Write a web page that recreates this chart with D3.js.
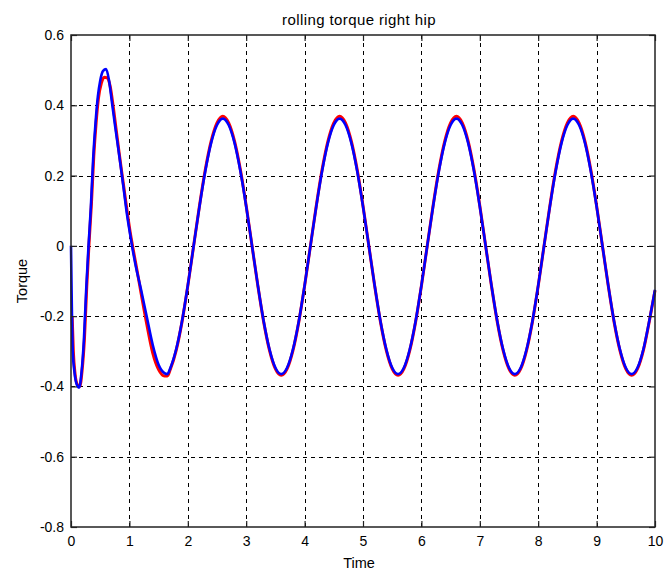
<!DOCTYPE html>
<html>
<head>
<meta charset="utf-8">
<script src="https://cdn.jsdelivr.net/npm/d3@7"></script>
<style>
  html, body { margin: 0; padding: 0; background: #ffffff; }
  svg { display: block; }
  text { font-family: "Liberation Sans", Arial, sans-serif; fill: #000; }
</style>
</head>
<body>
<svg id="chart" width="664" height="574"></svg>
<script>
// ---- data ----
const chartTitle = "rolling torque right hip";
const xLabel = "Time";
const yLabel = "Torque";

const xTickValues = [0, 1, 2, 3, 4, 5, 6, 7, 8, 9, 10];
const xTickLabels = ["0", "1", "2", "3", "4", "5", "6", "7", "8", "9", "10"];
const yTickValues = [-0.8, -0.6, -0.4, -0.2, 0, 0.2, 0.4, 0.6];
const yTickLabels = ["-0.8", "-0.6", "-0.4", "-0.2", "0", "0.2", "0.4", "0.6"];

// start-up transient, blue series
const blueEarlyTime = [0, 0.01, 0.03, 0.06, 0.10, 0.14, 0.18, 0.22, 0.26, 0.30, 0.34, 0.38, 0.42, 0.46, 0.50, 0.55, 0.60, 0.65, 0.70, 0.75, 0.80, 0.85, 0.90, 0.95, 1.00, 1.05, 1.10, 1.20, 1.30, 1.40, 1.50, 1.60, 1.65, 1.70];
const blueEarlyTorque = [0, -0.125, -0.300, -0.360, -0.395, -0.403, -0.360, -0.270, -0.125, 0.000, 0.110, 0.250, 0.350, 0.425, 0.470, 0.498, 0.503, 0.472, 0.410, 0.347, 0.288, 0.228, 0.165, 0.100, 0.045, -0.005, -0.050, -0.125, -0.204, -0.282, -0.338, -0.362, -0.365, -0.348];

// start-up transient, red series
const redEarlyTime = [0.02, 0.04, 0.07, 0.11, 0.15, 0.19, 0.23, 0.27, 0.31, 0.35, 0.39, 0.43, 0.47, 0.52, 0.57, 0.62, 0.67, 0.72, 0.77, 0.82, 0.87, 0.92, 0.97, 1.02, 1.07, 1.12, 1.20, 1.30, 1.40, 1.50, 1.60, 1.65, 1.70];
const redEarlyTorque = [-0.200, -0.300, -0.365, -0.395, -0.400, -0.355, -0.265, -0.115, 0.010, 0.120, 0.255, 0.350, 0.420, 0.463, 0.480, 0.478, 0.455, 0.400, 0.335, 0.270, 0.208, 0.148, 0.088, 0.032, -0.015, -0.060, -0.135, -0.225, -0.305, -0.352, -0.370, -0.370, -0.352];

// steady oscillation, both series share these times
const steadyTime = [1.8, 1.9, 2.0, 2.1, 2.2, 2.3, 2.4, 2.5, 2.6, 2.7, 2.8, 2.9, 3.0, 3.1, 3.2, 3.3, 3.4, 3.5, 3.6, 3.7,
  3.8, 3.9, 4.0, 4.1, 4.2, 4.3, 4.4, 4.5, 4.6, 4.7, 4.8, 4.9, 5.0, 5.1, 5.2, 5.3, 5.4, 5.5, 5.6, 5.7,
  5.8, 5.9, 6.0, 6.1, 6.2, 6.3, 6.4, 6.5, 6.6, 6.7, 6.8, 6.9, 7.0, 7.1, 7.2, 7.3, 7.4, 7.5, 7.6, 7.7,
  7.8, 7.9, 8.0, 8.1, 8.2, 8.3, 8.4, 8.5, 8.6, 8.7, 8.8, 8.9, 9.0, 9.1, 9.2, 9.3, 9.4, 9.5, 9.6, 9.7,
  9.8, 9.9, 10.0];
const blueSteady = [-0.295, -0.215, -0.113, 0.000, 0.112, 0.213, 0.293, 0.344, 0.362, 0.344, 0.293, 0.213, 0.112, 0.000, -0.113, -0.215, -0.295, -0.347, -0.365, -0.347,
  -0.295, -0.215, -0.113, 0.000, 0.112, 0.213, 0.293, 0.344, 0.362, 0.344, 0.293, 0.213, 0.112, 0.000, -0.113, -0.215, -0.295, -0.347, -0.365, -0.347,
  -0.295, -0.215, -0.113, 0.000, 0.112, 0.213, 0.293, 0.344, 0.362, 0.344, 0.293, 0.213, 0.112, 0.000, -0.113, -0.215, -0.295, -0.347, -0.365, -0.347,
  -0.295, -0.215, -0.113, 0.000, 0.112, 0.213, 0.293, 0.344, 0.362, 0.344, 0.293, 0.213, 0.112, 0.000, -0.113, -0.215, -0.295, -0.347, -0.365, -0.347,
  -0.295, -0.215, -0.125];
const redSteady = [-0.298, -0.217, -0.114, 0.000, 0.114, 0.217, 0.298, 0.350, 0.369, 0.350, 0.298, 0.217, 0.114, 0.000, -0.114, -0.217, -0.298, -0.350, -0.368, -0.350,
  -0.298, -0.217, -0.114, 0.000, 0.114, 0.217, 0.298, 0.350, 0.369, 0.350, 0.298, 0.217, 0.114, 0.000, -0.114, -0.217, -0.298, -0.350, -0.368, -0.350,
  -0.298, -0.217, -0.114, 0.000, 0.114, 0.217, 0.298, 0.350, 0.369, 0.350, 0.298, 0.217, 0.114, 0.000, -0.114, -0.217, -0.298, -0.350, -0.368, -0.350,
  -0.298, -0.217, -0.114, 0.000, 0.114, 0.217, 0.298, 0.350, 0.369, 0.350, 0.298, 0.217, 0.114, 0.000, -0.114, -0.217, -0.298, -0.350, -0.368, -0.350,
  -0.298, -0.217, -0.127];

// ---- layout ----
const W = 664, H = 574;
const plot = { left: 71, right: 655, top: 35, bottom: 527 };

const svg = d3.select("#chart");
svg.append("rect").attr("width", W).attr("height", H).attr("fill", "#fff");

const x = d3.scaleLinear().domain([0, 10]).range([plot.left, plot.right]);
const y = d3.scaleLinear().domain([-0.8, 0.6]).range([plot.bottom, plot.top]);

svg.append("rect")
  .attr("x", plot.left).attr("y", plot.top)
  .attr("width", plot.right - plot.left).attr("height", plot.bottom - plot.top)
  .attr("fill", "#fff");

// grid
const grid = svg.append("g").attr("stroke", "#000").attr("stroke-width", 1)
  .attr("stroke-dasharray", "4,4").attr("shape-rendering", "crispEdges");
grid.selectAll("line.gx").data(xTickValues.slice(1, -1)).enter().append("line")
  .attr("class", "gx")
  .attr("x1", d => Math.round(x(d)) + 0.5).attr("x2", d => Math.round(x(d)) + 0.5)
  .attr("y1", plot.top).attr("y2", plot.bottom);
grid.selectAll("line.gy").data(yTickValues.slice(1, -1)).enter().append("line")
  .attr("class", "gy")
  .attr("y1", d => Math.round(y(d)) + 0.5).attr("y2", d => Math.round(y(d)) + 0.5)
  .attr("x1", plot.left).attr("x2", plot.right);

// series
function buildPoints(t1, v1, t2, v2) {
  const pts = t1.map((t, i) => [t, v1[i]]);
  return pts.concat(t2.map((t, i) => [t, v2[i]]));
}
const redPts = buildPoints(redEarlyTime, redEarlyTorque, steadyTime, redSteady);
const bluePts = buildPoints(blueEarlyTime, blueEarlyTorque, steadyTime, blueSteady);

const line = d3.line().x(d => x(d[0])).y(d => y(d[1])).curve(d3.curveMonotoneX);

svg.append("path").datum(redPts)
  .attr("d", line).attr("fill", "none").attr("stroke", "#ff0000")
  .attr("stroke-width", 3).attr("stroke-linejoin", "round");
svg.append("path").datum(bluePts)
  .attr("d", line).attr("fill", "none").attr("stroke", "#0000ff")
  .attr("stroke-width", 2.6).attr("stroke-linejoin", "round");

// axes (ticks inward on all sides)
const fmtX = (d) => xTickLabels[xTickValues.indexOf(d)];
const fmtY = (d) => yTickLabels[yTickValues.indexOf(d)];

const axB = svg.append("g").attr("transform", `translate(0,${plot.bottom})`)
  .call(d3.axisBottom(x).tickValues(xTickValues).tickFormat(fmtX).tickSizeInner(-6).tickSizeOuter(0).tickPadding(8));
const axL = svg.append("g").attr("transform", `translate(${plot.left},0)`)
  .call(d3.axisLeft(y).tickValues(yTickValues).tickFormat(fmtY).tickSizeInner(-6).tickSizeOuter(0).tickPadding(7));
const axT = svg.append("g").attr("transform", `translate(0,${plot.top})`)
  .call(d3.axisTop(x).tickValues(xTickValues).tickFormat("").tickSizeInner(-6).tickSizeOuter(0));
const axR = svg.append("g").attr("transform", `translate(${plot.right},0)`)
  .call(d3.axisRight(y).tickValues(yTickValues).tickFormat("").tickSizeInner(-6).tickSizeOuter(0));

[axB, axL, axT, axR].forEach(g => {
  g.select(".domain").remove();
  g.selectAll(".tick line").attr("stroke", "#222").attr("stroke-width", 1.2);
  g.selectAll(".tick text").attr("font-family", "'Liberation Sans', Arial, sans-serif")
    .attr("font-size", 14).attr("fill", "#000");
});
axB.selectAll(".tick text").attr("dy", "0.75em");

// box
svg.append("rect")
  .attr("x", plot.left).attr("y", plot.top)
  .attr("width", plot.right - plot.left).attr("height", plot.bottom - plot.top)
  .attr("fill", "none").attr("stroke", "#222").attr("stroke-width", 1.5);

// title and labels
svg.append("text").attr("x", 359).attr("y", 25)
  .attr("text-anchor", "middle").attr("font-size", 15).attr("letter-spacing", 0.4).text(chartTitle);
svg.append("text").attr("x", 359).attr("y", 568)
  .attr("text-anchor", "middle").attr("font-size", 14.5).text(xLabel);
svg.append("text").attr("transform", `translate(27,${(plot.top + plot.bottom) / 2}) rotate(-90)`)
  .attr("text-anchor", "middle").attr("font-size", 14.5).text(yLabel);
</script>
</body>
</html>
